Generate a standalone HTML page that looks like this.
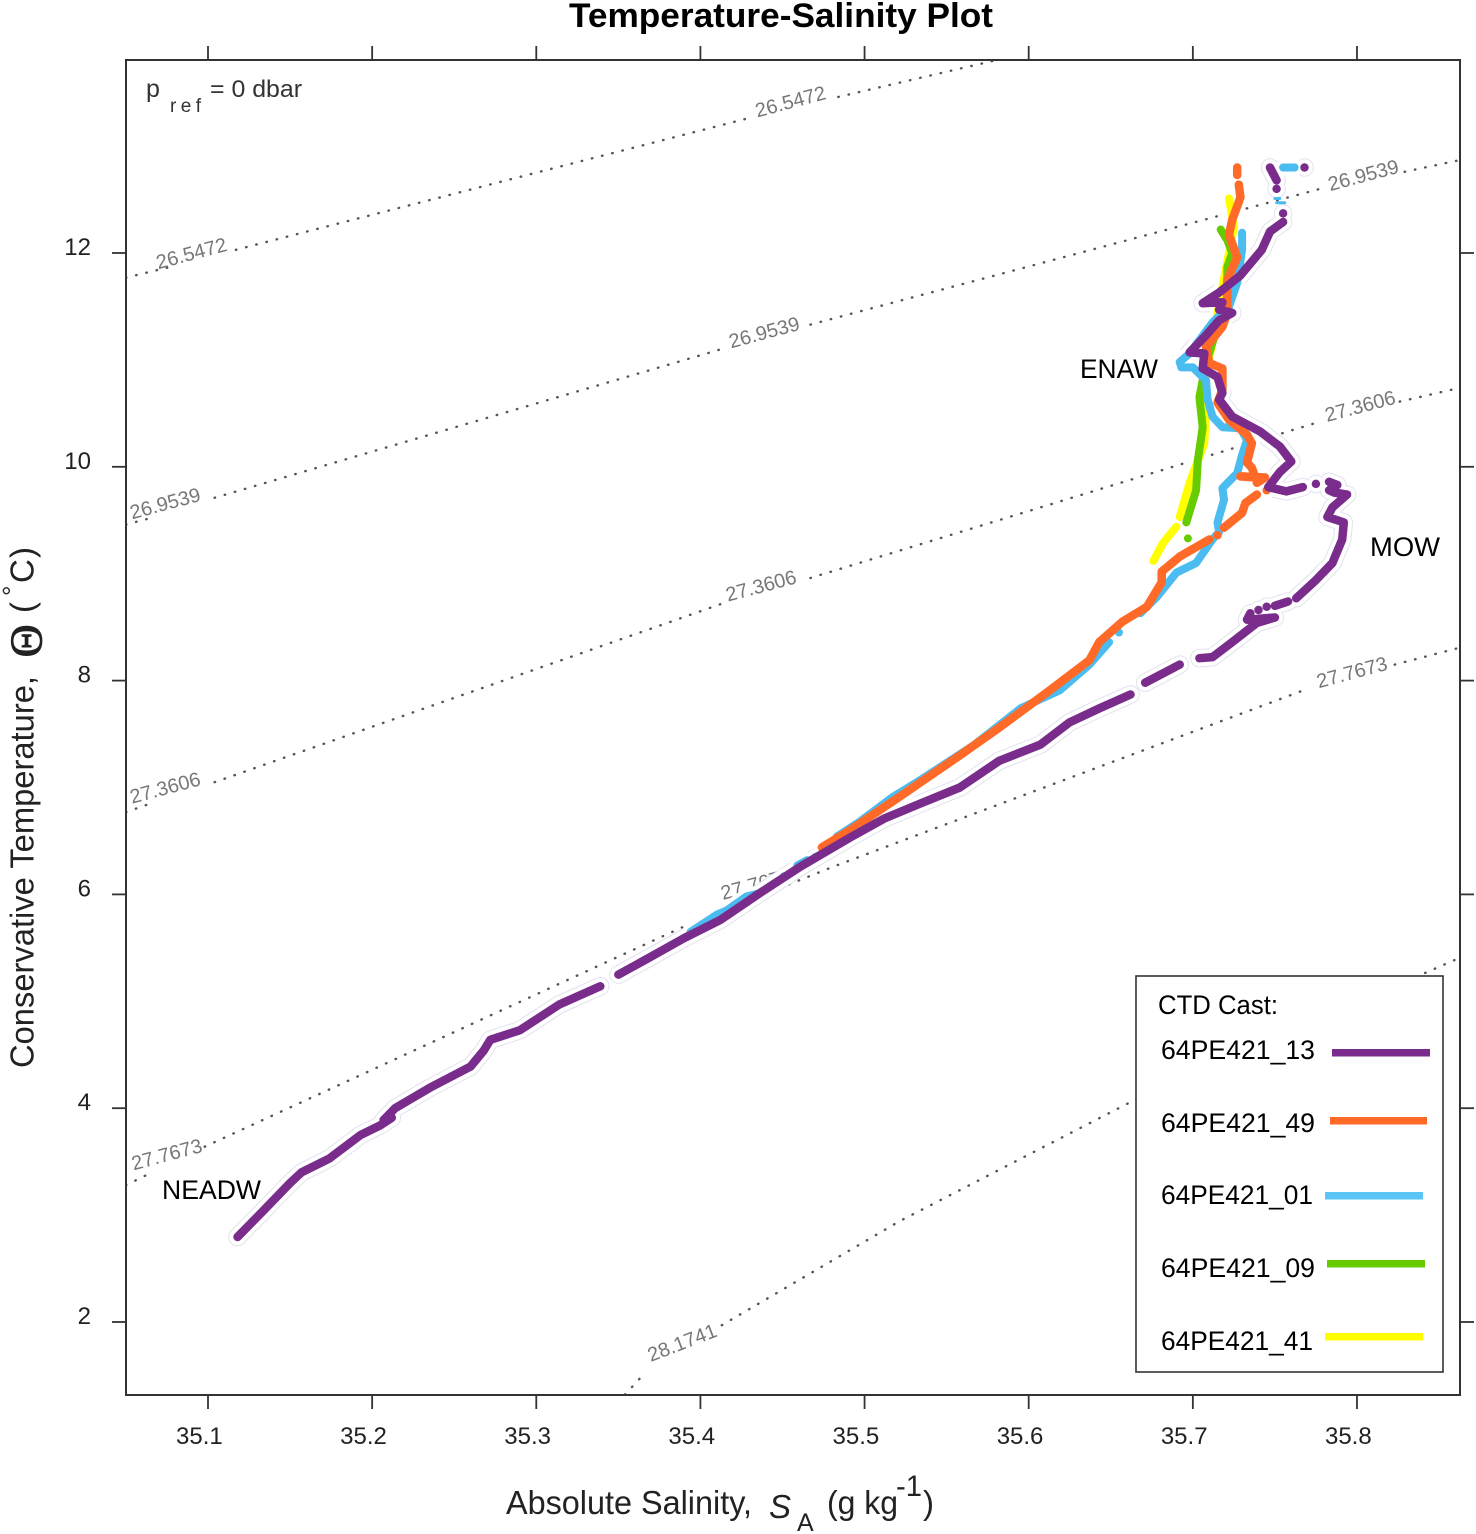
<!DOCTYPE html>
<html lang="en">
<head>
<meta charset="utf-8">
<title>Temperature-Salinity Plot</title>
<style>
html,body{margin:0;padding:0;background:#fff;}
svg{display:block;}
text{font-family:"Liberation Sans",sans-serif;}
</style>
</head>
<body>
<svg id="chart" width="1476" height="1534" viewBox="0 0 1476 1534" xmlns="http://www.w3.org/2000/svg">
  <defs><clipPath id="plot-clip"><rect x="126" y="60" width="1334" height="1335"/></clipPath></defs>
  <rect x="0" y="0" width="1476" height="1534" fill="#fff"/>
  <text x="569" y="27" font-size="34" font-weight="bold" fill="#000" textLength="424" lengthAdjust="spacingAndGlyphs">Temperature-Salinity Plot</text>
  <g id="isolines" clip-path="url(#plot-clip)"></g>
  <g id="iso-labels"></g>
  <g id="halos"></g>
  <g id="series"></g>
  <rect x="126" y="60" width="1334" height="1335" fill="none" stroke="#333" stroke-width="2"/>
  <g id="ticks"></g>
  <g id="tick-labels"></g>

  <g fill="#333">
    <text x="146" y="97" font-size="25">p</text>
    <text x="170" y="112" font-size="19" letter-spacing="4.4">ref</text>
    <text x="210" y="97" font-size="24" textLength="92" lengthAdjust="spacingAndGlyphs">= 0 dbar</text>
  </g>

  <text x="1080" y="378" font-size="27" fill="#000" textLength="78" lengthAdjust="spacingAndGlyphs">ENAW</text>
  <text x="1370" y="556" font-size="27" fill="#000" textLength="70" lengthAdjust="spacingAndGlyphs">MOW</text>
  <text x="162" y="1199" font-size="27" fill="#000" textLength="99" lengthAdjust="spacingAndGlyphs">NEADW</text>

  <g fill="#222">
    <text x="506" y="1514" font-size="33" textLength="246" lengthAdjust="spacingAndGlyphs">Absolute Salinity,</text>
    <text x="769" y="1518" font-size="33" font-style="italic">S</text>
    <text x="797" y="1531" font-size="25">A</text>
    <text x="827" y="1514" font-size="33" textLength="71" lengthAdjust="spacingAndGlyphs">(g kg</text>
    <text x="896" y="1496" font-size="30" textLength="26" lengthAdjust="spacingAndGlyphs">-1</text>
    <text x="923" y="1514" font-size="33">)</text>
  </g>

  <g fill="#222">
    <text transform="translate(33.5 1068) rotate(-90)" font-size="33" textLength="392" lengthAdjust="spacingAndGlyphs">Conservative Temperature,</text>
    <text transform="translate(41.5 657.5) rotate(-90)" font-size="46" stroke="#222" stroke-width="0.8" style="font-family:'Liberation Serif',serif">Θ</text>
    <text transform="translate(33.5 613) rotate(-90)" font-size="33">(</text>
    <text transform="translate(21 596) rotate(-90)" font-size="26">°</text>
    <text transform="translate(33.5 583) rotate(-90)" font-size="33">C</text>
    <text transform="translate(33.5 558) rotate(-90)" font-size="33">)</text>
  </g>

  <g>
    <rect x="1136" y="976" width="307" height="396" fill="#fff" stroke="#333" stroke-width="1.6"/>
    <text x="1158" y="1014" font-size="27" fill="#000" textLength="120" lengthAdjust="spacingAndGlyphs">CTD Cast:</text>
    <text x="1161" y="1059" font-size="26.5" fill="#000" textLength="154" lengthAdjust="spacingAndGlyphs">64PE421_13</text>
    <rect x="1332" y="1049" width="98" height="7.5" fill="#7a2c8c"/>
    <text x="1161" y="1132" font-size="26.5" fill="#000" textLength="154" lengthAdjust="spacingAndGlyphs">64PE421_49</text>
    <rect x="1330" y="1117" width="97" height="7.5" fill="#ff6a28"/>
    <text x="1161" y="1204" font-size="26.5" fill="#000" textLength="152" lengthAdjust="spacingAndGlyphs">64PE421_01</text>
    <rect x="1325" y="1192" width="98" height="7.5" fill="#5cc5f8"/>
    <text x="1161" y="1277" font-size="26.5" fill="#000" textLength="154" lengthAdjust="spacingAndGlyphs">64PE421_09</text>
    <rect x="1327" y="1260" width="98" height="7.5" fill="#66cc00"/>
    <text x="1161" y="1350" font-size="26.5" fill="#000" textLength="152" lengthAdjust="spacingAndGlyphs">64PE421_41</text>
    <rect x="1325" y="1333" width="98" height="7.5" fill="#ffff00"/>
  </g>
</svg>
<script>
// Axis tick values
var xTickValues = [35.1, 35.2, 35.3, 35.4, 35.5, 35.6, 35.7, 35.8];
var xTickLabels = ["35.1", "35.2", "35.3", "35.4", "35.5", "35.6", "35.7", "35.8"];
var yTickValues = [2, 4, 6, 8, 10, 12];
var yTickLabels = ["2", "4", "6", "8", "10", "12"];

// Cast 64PE421_13 (null = gap in the trace)
var salinity13 = [35.118,35.133,35.150,35.157,35.174,35.193,35.205,35.212,35.207,35.214,35.235,35.260,35.268,35.272,35.290,35.314,35.339,null,35.350,35.369,35.390,35.412,35.436,35.461,35.491,35.512,35.534,35.558,35.582,35.607,35.625,35.643,35.662,null,35.671,35.692,null,35.704,35.712,35.724,35.739,35.750,35.733,35.735,null,35.740,null,35.745,null,35.750,35.758,null,35.763,35.775,35.785,35.791,35.792,35.782,35.785,35.794,35.786,35.783,35.788,35.783,null,35.775,null,35.767,35.757,35.746,35.753,35.760,35.753,35.741,35.724,35.716,35.718,35.715,35.706,35.707,35.698,35.708,35.716,35.724,35.716,35.718,35.706,35.716,35.729,35.742,35.747,35.755,null,35.755,null,35.751,null,35.751,35.747,null,35.768];
var temperature13 = [2.795,3.03,3.30,3.40,3.53,3.75,3.84,3.91,3.89,4.00,4.19,4.39,4.54,4.64,4.73,4.97,5.14,null,5.25,5.41,5.59,5.76,6.01,6.26,6.53,6.71,6.85,7.00,7.25,7.40,7.61,7.74,7.87,null,7.98,8.15,null,8.21,8.22,8.36,8.54,8.59,8.57,8.63,null,8.66,null,8.69,null,8.70,8.74,null,8.77,8.94,9.10,9.32,9.48,9.53,9.62,9.74,9.76,9.78,9.83,9.86,null,9.84,null,9.81,9.77,9.81,9.95,10.05,10.19,10.33,10.47,10.63,10.69,10.84,10.92,11.06,11.07,11.23,11.37,11.44,11.47,11.54,11.53,11.63,11.79,12.03,12.20,12.29,null,12.37,null,12.60,null,12.68,12.80,null,12.80];

// Cast 64PE421_49
var salinity49 = [35.474,35.491,35.521,35.558,35.582,35.613,35.637,35.643,35.657,35.672,35.681,35.681,35.692,35.710,null,35.715,null,35.719,35.730,35.732,35.739,null,35.745,null,35.739,35.744,35.729,35.738,35.736,35.733,35.736,35.733,35.722,35.715,35.718,35.718,35.710,35.708,35.718,35.721,35.721,35.727,35.722,35.724,35.729,35.728,null,35.727,35.727];
var temperature49 = [6.44,6.60,6.91,7.30,7.56,7.91,8.19,8.36,8.55,8.69,8.92,9.02,9.16,9.32,null,9.36,null,9.43,9.57,9.66,9.74,null,9.78,null,9.85,9.90,9.91,9.90,9.99,10.04,10.22,10.30,10.44,10.60,10.72,10.92,10.97,11.12,11.31,11.44,11.75,11.96,12.17,12.31,12.52,12.64,null,12.73,12.80];

// Cast 64PE421_01
var salinity01 = [35.394,35.410,35.416,35.428,35.436,null,35.451,null,35.459,35.465,null,35.470,null,35.483,35.497,35.517,35.534,35.567,35.595,35.619,35.637,35.649,null,35.655,null,35.668,35.678,35.690,35.702,35.712,35.716,35.715,35.719,35.718,35.727,35.730,35.733,35.729,35.718,35.712,35.709,35.708,35.700,35.693,35.692,35.698,35.712,35.722,35.727,35.730,35.730,null,35.755,35.762];
var temperature01 = [5.65,5.81,5.85,5.98,6.01,null,6.17,null,6.27,6.32,null,6.35,null,6.54,6.68,6.91,7.07,7.40,7.74,7.91,8.15,8.36,null,8.45,null,8.63,8.78,9.01,9.10,9.32,9.39,9.48,9.69,9.80,9.94,10.11,10.25,10.36,10.37,10.47,10.63,10.81,10.93,10.93,10.98,11.06,11.35,11.50,11.72,12.03,12.19,null,12.80,12.80];
// Sparse thin fragments of cast 64PE421_01 near the top of the profile
var fragmentSalinity01 = [35.750,35.753,null,35.751,35.756];
var fragmentTemperature01 = [12.51,12.51,null,12.47,12.47];

// Cast 64PE421_09
var salinity09 = [35.696,35.702,35.703,35.706,35.704,35.708,35.712,35.721,35.721,35.724,35.721,35.717,null,35.697];
var temperature09 = [9.48,9.78,10.06,10.37,10.65,10.97,11.16,11.59,11.87,12.00,12.12,12.22,null,9.33];

// Cast 64PE421_41
var salinity41 = [35.676,35.682,35.690,null,35.692,35.698,35.707,35.708,35.708,35.715,35.725,35.722];
var temperature41 = [9.12,9.29,9.44,null,9.53,9.85,10.22,10.53,10.84,11.44,12.24,12.51];

// Isopycnals, sigma-0 contours (null = break around a label)
var isoSalinity1 = [35.05,35.08,null,35.117,35.429,null,35.484,35.582];
var isoTemperature1 = [11.77,11.88,null,12.03,13.26,null,13.46,13.81];
var isoSalinity2 = [35.05,35.065,null,35.104,35.415,null,35.467,35.78,null,35.829,35.863];
var isoTemperature2 = [9.46,9.52,null,9.71,11.11,null,11.33,12.61,null,12.76,12.87];
var isoSalinity3 = [35.05,35.065,null,35.104,35.415,null,35.467,35.777,null,35.826,35.863];
var isoTemperature3 = [6.77,6.85,null,7.05,8.73,null,8.96,10.42,null,10.61,10.74];
var isoSalinity4 = [35.05,35.062,null,35.098,35.39,35.481,35.545,35.771,null,35.823,35.863];
var isoTemperature4 = [3.28,3.37,null,3.64,5.70,6.26,6.63,7.93,null,8.15,8.31];
var isoSalinity5 = [35.354,35.366,null,35.413,35.521,35.665,35.863];
var isoTemperature5 = [1.32,1.52,null,1.97,2.94,4.08,5.41];

// Isopycnal labels
var isoLabelValues = ["26.5472","26.5472","26.9539","26.9539","26.9539","27.3606","27.3606","27.3606","27.7673","27.7673","27.7673","28.1741"];
var isoLabelSalinity = [35.090,35.455,35.074,35.439,35.804,35.074,35.437,35.802,35.075,35.434,35.797,35.389];
var isoLabelTemperature = [11.99,13.41,9.65,11.25,12.72,6.99,8.88,10.56,3.56,6.09,8.07,1.80];

var SVGNS = "http://www.w3.org/2000/svg";

function xScale(s) { return 208 + (s - 35.1) * 1641.4; }
function yScale(t) { return 253 + (12 - t) * 106.9; }

function pathFrom(sArr, tArr) {
  var d = "";
  var runLength = 0;
  var lastX = 0;
  var lastY = 0;
  for (var i = 0; i <= sArr.length; i++) {
    if (i === sArr.length || sArr[i] === null) {
      if (runLength === 1) { d += "L" + lastX + " " + lastY; }
      runLength = 0;
      continue;
    }
    lastX = xScale(sArr[i]).toFixed(1);
    lastY = yScale(tArr[i]).toFixed(1);
    d += (runLength === 0 ? "M" : "L") + lastX + " " + lastY;
    runLength++;
  }
  return d;
}

function addPath(parentId, d, stroke, width, dash) {
  var el = document.createElementNS(SVGNS, "path");
  el.setAttribute("d", d);
  el.setAttribute("fill", "none");
  el.setAttribute("stroke", stroke);
  el.setAttribute("stroke-width", width);
  el.setAttribute("stroke-linecap", "round");
  el.setAttribute("stroke-linejoin", "round");
  if (dash) { el.setAttribute("stroke-dasharray", dash); }
  document.getElementById(parentId).appendChild(el);
  return el;
}

function addLine(x1, y1, x2, y2) {
  var el = document.createElementNS(SVGNS, "line");
  el.setAttribute("x1", x1);
  el.setAttribute("y1", y1);
  el.setAttribute("x2", x2);
  el.setAttribute("y2", y2);
  el.setAttribute("stroke", "#333");
  el.setAttribute("stroke-width", "1.8");
  document.getElementById("ticks").appendChild(el);
  return el;
}

function addTickLabel(text, x, y, anchor) {
  var el = document.createElementNS(SVGNS, "text");
  el.setAttribute("x", x);
  el.setAttribute("y", y);
  el.setAttribute("font-size", "24");
  el.setAttribute("fill", "#222");
  el.setAttribute("text-anchor", anchor);
  el.textContent = text;
  document.getElementById("tick-labels").appendChild(el);
  return el;
}

// Isopycnal lines
var isoSets = [
  [isoSalinity1, isoTemperature1],
  [isoSalinity2, isoTemperature2],
  [isoSalinity3, isoTemperature3],
  [isoSalinity4, isoTemperature4],
  [isoSalinity5, isoTemperature5]
];
isoSets.forEach(function (pair) {
  var el = addPath("isolines", pathFrom(pair[0], pair[1]), "#555", 2.4, "0.5 10");
  
  
});

// Isopycnal labels
isoLabelValues.forEach(function (value, i) {
  var el = document.createElementNS(SVGNS, "text");
  var px = xScale(isoLabelSalinity[i]);
  var py = yScale(isoLabelTemperature[i]);
  var angle = parseFloat(value) > 28 ? -21 : -15;
  el.setAttribute("transform", "translate(" + px.toFixed(1) + " " + py.toFixed(1) + ") rotate(" + angle + ")");
  el.setAttribute("text-anchor", "middle");
  el.setAttribute("dominant-baseline", "central");
  el.setAttribute("font-size", "20");
  el.setAttribute("fill", "#777");
  el.textContent = value;
  
  
  document.getElementById("iso-labels").appendChild(el);
});

// Series: halos first so no trace is hidden by another's halo
var dYellow = pathFrom(salinity41, temperature41);
var dGreen = pathFrom(salinity09, temperature09);
var dBlue = pathFrom(salinity01, temperature01);
var dBlueFragments = pathFrom(fragmentSalinity01, fragmentTemperature01);
var dOrange = pathFrom(salinity49, temperature49);
var dPurple = pathFrom(salinity13, temperature13);

var purpleEdge = addPath("halos", dPurple, "#e3e1f1", 18.5);


var purpleHalo = addPath("halos", dPurple, "#fff", 16.5);


var orangeHalo = addPath("halos", dOrange, "#fff", 16);


var blueHalo = addPath("halos", dBlue, "#fff", 16);


var greenHalo = addPath("halos", dGreen, "#fff", 16);


var yellowHalo = addPath("halos", dYellow, "#fff", 16);



var yellowLine = addPath("series", dYellow, "#ffff00", 8);


var greenLine = addPath("series", dGreen, "#66cc00", 8);


var blueLine = addPath("series", dBlue, "#4bbcf0", 8);


var blueFragments = addPath("series", dBlueFragments, "#4bbcf0", 3);


var orangeLine = addPath("series", dOrange, "#ff6a28", 8.5);


var purpleLine = addPath("series", dPurple, "#7a2c8c", 8.5);



// Ticks and tick labels
xTickValues.forEach(function (value, i) {
  var x = xScale(value);
  var topTick = addLine(x, 60, x, 46);
  
  
  var bottomTick = addLine(x, 1395, x, 1409);
  
  
  var label = addTickLabel(xTickLabels[i], x - 32, 1444, "start");
  
  
});

yTickValues.forEach(function (value, i) {
  var y = yScale(value);
  var leftTick = addLine(126, y, 112, y);
  
  
  var rightTick = addLine(1460, y, 1474, y);
  
  
  var label = addTickLabel(yTickLabels[i], 91, y + 2, "end");
  
  
});
</script>
</body>
</html>
